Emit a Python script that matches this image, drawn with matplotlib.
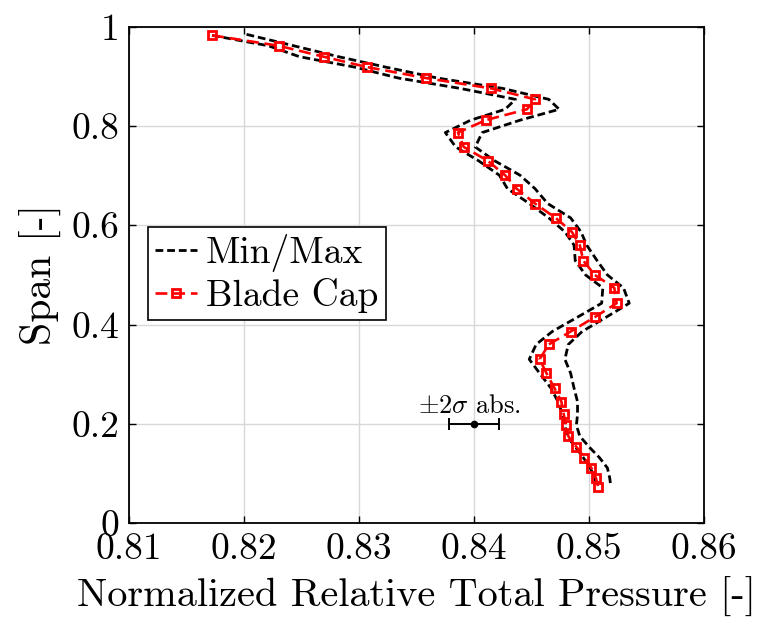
import numpy as np
import matplotlib
matplotlib.use("Agg")
import matplotlib.pyplot as plt

plt.rcParams["font.family"] = "cmr10"
plt.rcParams["mathtext.fontset"] = "cm"
plt.rcParams["axes.formatter.use_mathtext"] = True

# spanwise stations and normalized relative total pressure
span = [0.983, 0.962, 0.940, 0.919, 0.897, 0.876, 0.854, 0.834, 0.812, 0.787,
        0.758, 0.730, 0.701, 0.674, 0.644, 0.615, 0.587, 0.560, 0.529, 0.500,
        0.474, 0.443, 0.415, 0.386, 0.360, 0.330, 0.302, 0.2715, 0.2445, 0.219,
        0.197, 0.175, 0.1535, 0.132, 0.111, 0.091, 0.073]
blade_cap = [0.8172, 0.8230, 0.8269, 0.8307, 0.8358, 0.8415, 0.8453, 0.8446, 0.8410, 0.8386,
             0.8391, 0.8412, 0.8427, 0.8437, 0.8453, 0.8471, 0.8485, 0.8492, 0.8495, 0.8505,
             0.8522, 0.8524, 0.8505, 0.8484, 0.8465, 0.8457, 0.8463, 0.8470, 0.8476, 0.8478,
             0.8480, 0.8482, 0.8489, 0.8496, 0.8502, 0.8506, 0.8508]
p_min = [0.8172, 0.8221, 0.8248, 0.8296, 0.8334, 0.8388, 0.8436, 0.8427, 0.8397, 0.8375,
         0.8384, 0.8404, 0.8422, 0.8429, 0.8448, 0.8465, 0.8479, 0.8487, 0.8488, 0.8497,
         0.8512, 0.8511, 0.8490, 0.8468, 0.8454, 0.8448, 0.8457, 0.8467, 0.8473, 0.8477,
         0.8479, 0.8481, 0.8488, 0.8495, 0.8501, 0.8505, 0.8507]
max_span = [0.985] + span[1:]
p_max = [0.8202, 0.8243, 0.8282, 0.8323, 0.8368, 0.8425, 0.8465, 0.8474, 0.8440, 0.8407,
         0.8401, 0.8418, 0.8440, 0.8453, 0.8464, 0.8484, 0.8493, 0.8498, 0.8507, 0.8516,
         0.8530, 0.8535, 0.8515, 0.8494, 0.8482, 0.8479, 0.8484, 0.8487, 0.8490, 0.8490,
         0.8489, 0.8492, 0.8500, 0.8509, 0.8516, 0.8518, 0.8519]

# measurement uncertainty marker
unc_x, unc_y, unc_err = 0.84, 0.2, 0.0022

xticks = [0.81, 0.82, 0.83, 0.84, 0.85, 0.86]
xticklabels = ["0.81", "0.82", "0.83", "0.84", "0.85", "0.86"]
yticks = [0, 0.2, 0.4, 0.6, 0.8, 1.0]
yticklabels = ["0", "0.2", "0.4", "0.6", "0.8", "1"]

fig = plt.figure(figsize=(7.66, 6.26), dpi=100)
ax = fig.add_axes([0.1688, 0.1645, 0.7502, 0.7925])

dash = (0, (2.8, 1.4))
ax.plot(p_min, span, color="black", lw=2, ls=dash, label="Min/Max")
ax.plot(p_max, max_span, color="black", lw=2, ls=dash)
ax.plot(blade_cap, span, color="red", lw=1.9, ls=(0, (4.5, 2.2)),
        marker="s", ms=6, mfc="none", mec="red", mew=2, label="Blade Cap")

ax.errorbar(unc_x, unc_y, xerr=unc_err, fmt="o", color="black", ms=4.5,
            capsize=4, elinewidth=1.4, capthick=1.4)
ax.text(unc_x - 0.0004, unc_y + 0.012, r"$\pm2\sigma$ abs.", ha="center", va="bottom",
        fontsize=19)

ax.set_xlim(0.81, 0.86)
ax.set_ylim(0, 1)
ax.set_xticks(xticks)
ax.set_xticklabels(xticklabels)
ax.set_yticks(yticks)
ax.set_yticklabels(yticklabels)
ax.tick_params(direction="in", length=5, width=1, labelsize=27, top=True, right=True,
               pad=7)
ax.grid(True, color="#d8d8d8", lw=1)
ax.set_axisbelow(True)
for s in ax.spines.values():
    s.set_linewidth(1.3)

ax.set_xlabel("Normalized Relative Total Pressure [-]", fontsize=29, labelpad=8)
ax.set_ylabel("Span [-]", fontsize=30, labelpad=8)

leg = ax.legend(loc="upper left", bbox_to_anchor=(0.0325, 0.597), borderaxespad=0,
                fontsize=27, handlelength=1.1, handletextpad=0.25, fancybox=False,
                edgecolor="black", framealpha=1, borderpad=0.2, labelspacing=0.15)
leg.get_frame().set_linewidth(1.2)

fig.savefig("out.png", dpi=100)
